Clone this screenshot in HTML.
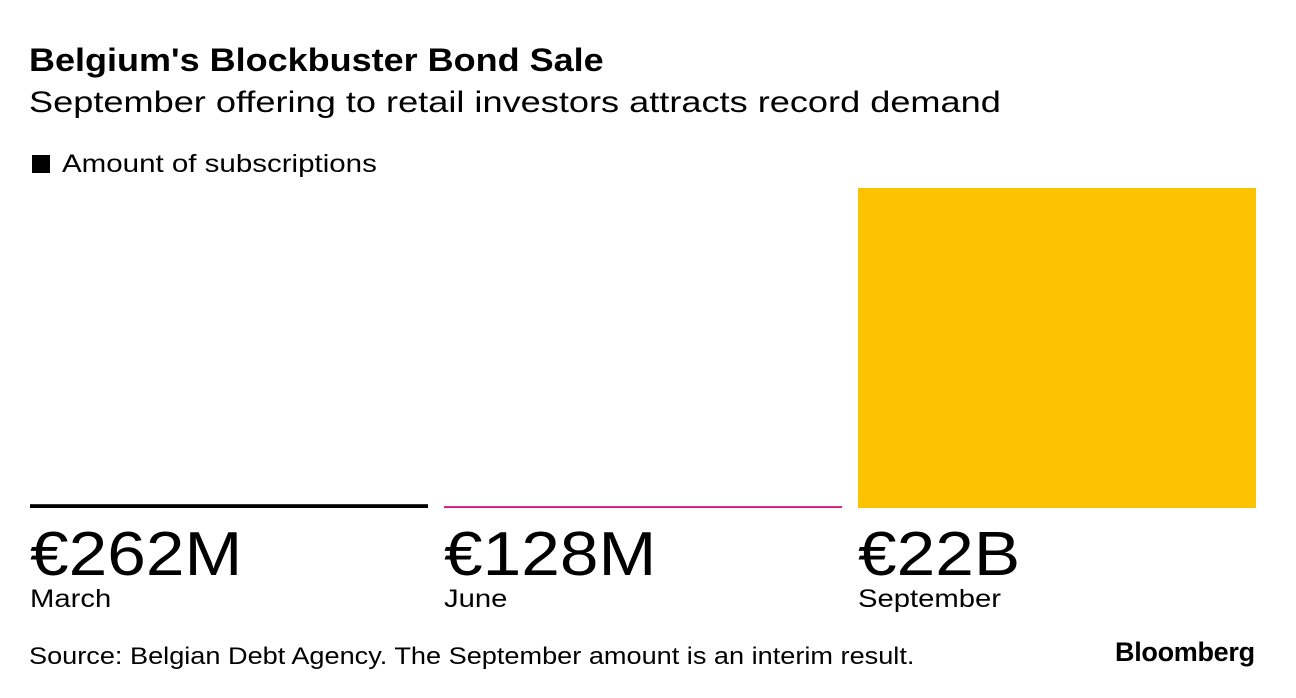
<!DOCTYPE html>
<html><head><meta charset="utf-8"><style>
body{margin:0;width:1296px;height:698px;background:#fff;font-family:"Liberation Sans",sans-serif;color:#000;position:relative;overflow:hidden}
.t{position:absolute;white-space:nowrap;transform-origin:0 0}
</style></head><body>
<div class="t" style="left:29px;top:42px;font-size:32px;font-weight:bold;transform:scaleX(1.125)">Belgium's Blockbuster Bond Sale</div>
<div class="t" style="left:29px;top:86px;font-size:30px;transform:scaleX(1.205)">September offering to retail investors attracts record demand</div>
<div class="t" style="left:32px;top:150px;font-size:25px;"><span style="display:inline-block;width:18px;height:18px;background:#000;vertical-align:-1px;margin-right:12px"></span><span style="display:inline-block;transform:scaleX(1.18);transform-origin:0 0">Amount of subscriptions</span></div>
<svg id="chart" width="1296" height="698" style="position:absolute;left:0;top:0"></svg>
<div class="t" style="left:29px;top:643px;font-size:24px;transform:scaleX(1.13)">Source: Belgian Debt Agency. The September amount is an interim result.</div>
<div class="t" style="left:1115px;top:637px;font-size:27px;font-weight:bold;letter-spacing:-0.3px">Bloomberg</div>
<script>
const categories=["March","June","September"];
const values=[262,128,22000];
const labels=["€262M","€128M","€22B"];
const colors=["#000000","#e0117f","#fdc300"];
const svg=document.getElementById('chart');
const NS="http://www.w3.org/2000/svg";
const base=508, top0=188, maxV=22000;
function y(v){return base-(v/maxV)*(base-top0);}
function x(i){return 30+i*414;}
const w=398;
categories.forEach((c,i)=>{
  const r=document.createElementNS(NS,'rect');
  
  
  r.setAttribute('x',x(i));r.setAttribute('y',y(values[i]));
  r.setAttribute('width',w);r.setAttribute('height',base-y(values[i]));
  r.setAttribute('fill',colors[i]);svg.appendChild(r);
  const v=document.createElementNS(NS,'text');
  
  
  v.setAttribute('transform','translate('+x(i)+',575) scale(1.12,1)');
  v.setAttribute('font-size','62');v.setAttribute('font-family','Liberation Sans, sans-serif');
  v.textContent=labels[i];svg.appendChild(v);
  const l=document.createElementNS(NS,'text');
  
  
  l.setAttribute('transform','translate('+x(i)+',607) scale(1.17,1)');
  l.setAttribute('font-size','25');l.setAttribute('font-family','Liberation Sans, sans-serif');
  l.textContent=c;svg.appendChild(l);
});
</script>
</body></html>
